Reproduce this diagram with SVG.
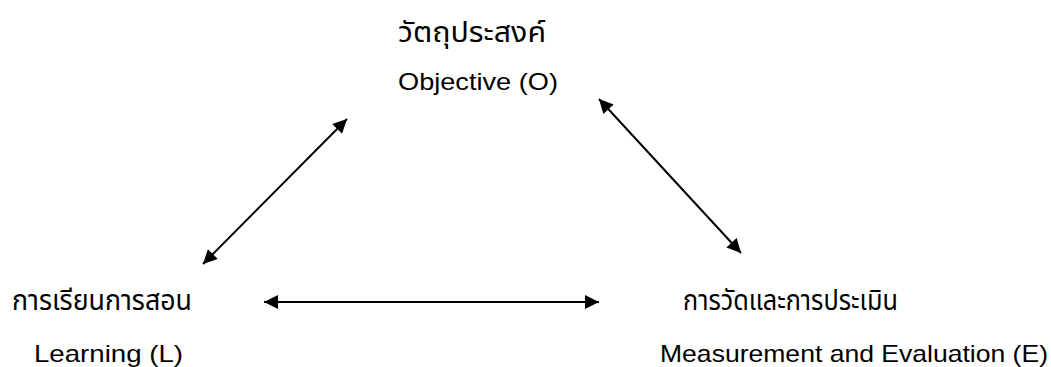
<svg xmlns="http://www.w3.org/2000/svg" width="1051" height="367" viewBox="0 0 1051 367">
<defs>
<style>
.th{font-family:"Noto Sans Thai","Tahoma","DejaVu Sans","Noto Sans",sans-serif;font-size:29px;fill:#000}
.en{font-family:"Liberation Sans",Arial,sans-serif;font-size:24px;fill:#000}
.conn{stroke:#000;stroke-width:2;fill:none}
</style>
<marker id="ah" viewBox="0 0 10 10" refX="10" refY="5" markerWidth="8" markerHeight="7" markerUnits="strokeWidth" orient="auto-start-reverse">
<path d="M0,0 L10,5 L0,10 z" fill="#000"/>
</marker>
</defs>
<rect width="1051" height="367" fill="#fff"/>
<g id="node-objective">
<text class="th" x="398" y="42" textLength="148" lengthAdjust="spacingAndGlyphs">วัตถุประสงค์</text>
<text class="en" x="398" y="90" textLength="160" lengthAdjust="spacingAndGlyphs">Objective (O)</text>
</g>
<g id="node-learning">
<text class="th" x="12" y="310" textLength="180" lengthAdjust="spacingAndGlyphs">การเรียนการสอน</text>
<text class="en" x="34" y="362" textLength="149" lengthAdjust="spacingAndGlyphs">Learning (L)</text>
</g>
<g id="node-evaluation">
<text class="th" x="683" y="310" textLength="215" lengthAdjust="spacingAndGlyphs">การวัดและการประเมิน</text>
<text class="en" x="660" y="362" textLength="388" lengthAdjust="spacingAndGlyphs">Measurement and Evaluation (E)</text>
</g>
<g id="connectors">
<line class="conn" x1="203" y1="264" x2="347" y2="119" marker-start="url(#ah)" marker-end="url(#ah)"/>
<line class="conn" x1="599" y1="99" x2="741" y2="253" marker-start="url(#ah)" marker-end="url(#ah)"/>
<line class="conn" x1="264" y1="302" x2="599" y2="302" marker-start="url(#ah)" marker-end="url(#ah)"/>
</g>
</svg>
